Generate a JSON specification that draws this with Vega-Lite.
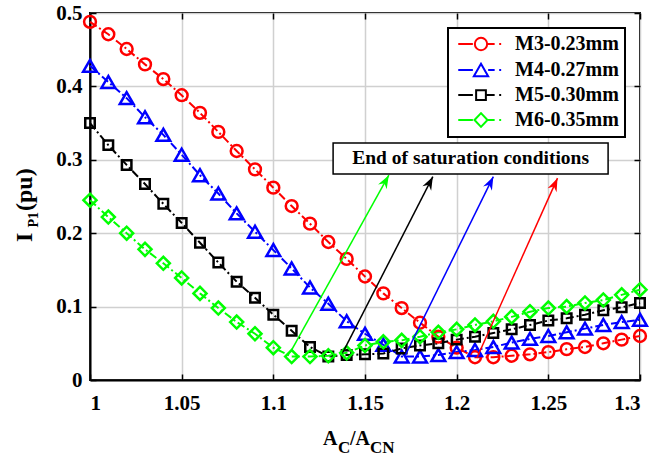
{
  "$schema": "https://vega.github.io/schema/vega-lite/v6.json",
  "width": 550,
  "height": 367,
  "autosize": {"type": "none"},
  "padding": {"left": 90, "top": 13, "right": 28, "bottom": 77},
  "background": "white",
  "config": {
    "view": {"stroke": "black", "strokeWidth": 2},
    "font": "Liberation Serif",
    "axis": {"domainColor": "black", "domainWidth": 2, "tickColor": "black", "tickWidth": 1.5, "tickSize": -6, "labelFont": "Liberation Serif", "labelFontWeight": "bold", "labelFontSize": 21, "labelColor": "black", "gridColor": "#d0d0d0", "gridWidth": 1.5, "gridOpacity": 1},
    "axisX": {"labelPadding": 18},
    "axisY": {"labelPadding": 14},
    "legend": {"padding": 6, "strokeColor": "black", "strokeWidth": 2, "fillColor": "white", "labelFont": "Liberation Serif", "labelFontWeight": "bold", "labelFontSize": 20, "labelColor": "black", "rowPadding": 4, "symbolStrokeWidth": 2, "symbolOffset": 17, "labelOffset": 24}
  },
  "datasets": {
    "curves": [
      {"series": "M3-0.23mm", "ratio": 1.00, "ipu": 0.488},
      {"series": "M3-0.23mm", "ratio": 1.01, "ipu": 0.471},
      {"series": "M3-0.23mm", "ratio": 1.02, "ipu": 0.451},
      {"series": "M3-0.23mm", "ratio": 1.03, "ipu": 0.430},
      {"series": "M3-0.23mm", "ratio": 1.04, "ipu": 0.410},
      {"series": "M3-0.23mm", "ratio": 1.05, "ipu": 0.388},
      {"series": "M3-0.23mm", "ratio": 1.06, "ipu": 0.364},
      {"series": "M3-0.23mm", "ratio": 1.07, "ipu": 0.338},
      {"series": "M3-0.23mm", "ratio": 1.08, "ipu": 0.312},
      {"series": "M3-0.23mm", "ratio": 1.09, "ipu": 0.287},
      {"series": "M3-0.23mm", "ratio": 1.10, "ipu": 0.262},
      {"series": "M3-0.23mm", "ratio": 1.11, "ipu": 0.237},
      {"series": "M3-0.23mm", "ratio": 1.12, "ipu": 0.213},
      {"series": "M3-0.23mm", "ratio": 1.13, "ipu": 0.188},
      {"series": "M3-0.23mm", "ratio": 1.14, "ipu": 0.165},
      {"series": "M3-0.23mm", "ratio": 1.15, "ipu": 0.141},
      {"series": "M3-0.23mm", "ratio": 1.16, "ipu": 0.118},
      {"series": "M3-0.23mm", "ratio": 1.17, "ipu": 0.098},
      {"series": "M3-0.23mm", "ratio": 1.18, "ipu": 0.078},
      {"series": "M3-0.23mm", "ratio": 1.19, "ipu": 0.059},
      {"series": "M3-0.23mm", "ratio": 1.20, "ipu": 0.044},
      {"series": "M3-0.23mm", "ratio": 1.21, "ipu": 0.031},
      {"series": "M3-0.23mm", "ratio": 1.22, "ipu": 0.031},
      {"series": "M3-0.23mm", "ratio": 1.23, "ipu": 0.033},
      {"series": "M3-0.23mm", "ratio": 1.24, "ipu": 0.035},
      {"series": "M3-0.23mm", "ratio": 1.25, "ipu": 0.038},
      {"series": "M3-0.23mm", "ratio": 1.26, "ipu": 0.042},
      {"series": "M3-0.23mm", "ratio": 1.27, "ipu": 0.045},
      {"series": "M3-0.23mm", "ratio": 1.28, "ipu": 0.050},
      {"series": "M3-0.23mm", "ratio": 1.29, "ipu": 0.055},
      {"series": "M3-0.23mm", "ratio": 1.30, "ipu": 0.060},
      {"series": "M4-0.27mm", "ratio": 1.00, "ipu": 0.428},
      {"series": "M4-0.27mm", "ratio": 1.01, "ipu": 0.406},
      {"series": "M4-0.27mm", "ratio": 1.02, "ipu": 0.384},
      {"series": "M4-0.27mm", "ratio": 1.03, "ipu": 0.358},
      {"series": "M4-0.27mm", "ratio": 1.04, "ipu": 0.334},
      {"series": "M4-0.27mm", "ratio": 1.05, "ipu": 0.307},
      {"series": "M4-0.27mm", "ratio": 1.06, "ipu": 0.279},
      {"series": "M4-0.27mm", "ratio": 1.07, "ipu": 0.254},
      {"series": "M4-0.27mm", "ratio": 1.08, "ipu": 0.227},
      {"series": "M4-0.27mm", "ratio": 1.09, "ipu": 0.202},
      {"series": "M4-0.27mm", "ratio": 1.10, "ipu": 0.177},
      {"series": "M4-0.27mm", "ratio": 1.11, "ipu": 0.152},
      {"series": "M4-0.27mm", "ratio": 1.12, "ipu": 0.126},
      {"series": "M4-0.27mm", "ratio": 1.13, "ipu": 0.104},
      {"series": "M4-0.27mm", "ratio": 1.14, "ipu": 0.080},
      {"series": "M4-0.27mm", "ratio": 1.15, "ipu": 0.063},
      {"series": "M4-0.27mm", "ratio": 1.16, "ipu": 0.048},
      {"series": "M4-0.27mm", "ratio": 1.17, "ipu": 0.032},
      {"series": "M4-0.27mm", "ratio": 1.18, "ipu": 0.032},
      {"series": "M4-0.27mm", "ratio": 1.19, "ipu": 0.034},
      {"series": "M4-0.27mm", "ratio": 1.20, "ipu": 0.038},
      {"series": "M4-0.27mm", "ratio": 1.21, "ipu": 0.041},
      {"series": "M4-0.27mm", "ratio": 1.22, "ipu": 0.045},
      {"series": "M4-0.27mm", "ratio": 1.23, "ipu": 0.051},
      {"series": "M4-0.27mm", "ratio": 1.24, "ipu": 0.056},
      {"series": "M4-0.27mm", "ratio": 1.25, "ipu": 0.060},
      {"series": "M4-0.27mm", "ratio": 1.26, "ipu": 0.065},
      {"series": "M4-0.27mm", "ratio": 1.27, "ipu": 0.070},
      {"series": "M4-0.27mm", "ratio": 1.28, "ipu": 0.075},
      {"series": "M4-0.27mm", "ratio": 1.29, "ipu": 0.079},
      {"series": "M4-0.27mm", "ratio": 1.30, "ipu": 0.082},
      {"series": "M5-0.30mm", "ratio": 1.00, "ipu": 0.350},
      {"series": "M5-0.30mm", "ratio": 1.01, "ipu": 0.320},
      {"series": "M5-0.30mm", "ratio": 1.02, "ipu": 0.293},
      {"series": "M5-0.30mm", "ratio": 1.03, "ipu": 0.267},
      {"series": "M5-0.30mm", "ratio": 1.04, "ipu": 0.240},
      {"series": "M5-0.30mm", "ratio": 1.05, "ipu": 0.214},
      {"series": "M5-0.30mm", "ratio": 1.06, "ipu": 0.187},
      {"series": "M5-0.30mm", "ratio": 1.07, "ipu": 0.160},
      {"series": "M5-0.30mm", "ratio": 1.08, "ipu": 0.134},
      {"series": "M5-0.30mm", "ratio": 1.09, "ipu": 0.112},
      {"series": "M5-0.30mm", "ratio": 1.10, "ipu": 0.089},
      {"series": "M5-0.30mm", "ratio": 1.11, "ipu": 0.067},
      {"series": "M5-0.30mm", "ratio": 1.12, "ipu": 0.045},
      {"series": "M5-0.30mm", "ratio": 1.13, "ipu": 0.032},
      {"series": "M5-0.30mm", "ratio": 1.14, "ipu": 0.034},
      {"series": "M5-0.30mm", "ratio": 1.15, "ipu": 0.035},
      {"series": "M5-0.30mm", "ratio": 1.16, "ipu": 0.036},
      {"series": "M5-0.30mm", "ratio": 1.17, "ipu": 0.043},
      {"series": "M5-0.30mm", "ratio": 1.18, "ipu": 0.047},
      {"series": "M5-0.30mm", "ratio": 1.19, "ipu": 0.050},
      {"series": "M5-0.30mm", "ratio": 1.20, "ipu": 0.055},
      {"series": "M5-0.30mm", "ratio": 1.21, "ipu": 0.059},
      {"series": "M5-0.30mm", "ratio": 1.22, "ipu": 0.064},
      {"series": "M5-0.30mm", "ratio": 1.23, "ipu": 0.069},
      {"series": "M5-0.30mm", "ratio": 1.24, "ipu": 0.075},
      {"series": "M5-0.30mm", "ratio": 1.25, "ipu": 0.081},
      {"series": "M5-0.30mm", "ratio": 1.26, "ipu": 0.084},
      {"series": "M5-0.30mm", "ratio": 1.27, "ipu": 0.089},
      {"series": "M5-0.30mm", "ratio": 1.28, "ipu": 0.095},
      {"series": "M5-0.30mm", "ratio": 1.29, "ipu": 0.099},
      {"series": "M5-0.30mm", "ratio": 1.30, "ipu": 0.105},
      {"series": "M6-0.35mm", "ratio": 1.00, "ipu": 0.245},
      {"series": "M6-0.35mm", "ratio": 1.01, "ipu": 0.222},
      {"series": "M6-0.35mm", "ratio": 1.02, "ipu": 0.200},
      {"series": "M6-0.35mm", "ratio": 1.03, "ipu": 0.178},
      {"series": "M6-0.35mm", "ratio": 1.04, "ipu": 0.159},
      {"series": "M6-0.35mm", "ratio": 1.05, "ipu": 0.139},
      {"series": "M6-0.35mm", "ratio": 1.06, "ipu": 0.118},
      {"series": "M6-0.35mm", "ratio": 1.07, "ipu": 0.098},
      {"series": "M6-0.35mm", "ratio": 1.08, "ipu": 0.079},
      {"series": "M6-0.35mm", "ratio": 1.09, "ipu": 0.063},
      {"series": "M6-0.35mm", "ratio": 1.10, "ipu": 0.044},
      {"series": "M6-0.35mm", "ratio": 1.11, "ipu": 0.032},
      {"series": "M6-0.35mm", "ratio": 1.12, "ipu": 0.032},
      {"series": "M6-0.35mm", "ratio": 1.13, "ipu": 0.033},
      {"series": "M6-0.35mm", "ratio": 1.14, "ipu": 0.037},
      {"series": "M6-0.35mm", "ratio": 1.15, "ipu": 0.047},
      {"series": "M6-0.35mm", "ratio": 1.16, "ipu": 0.052},
      {"series": "M6-0.35mm", "ratio": 1.17, "ipu": 0.054},
      {"series": "M6-0.35mm", "ratio": 1.18, "ipu": 0.059},
      {"series": "M6-0.35mm", "ratio": 1.19, "ipu": 0.065},
      {"series": "M6-0.35mm", "ratio": 1.20, "ipu": 0.069},
      {"series": "M6-0.35mm", "ratio": 1.21, "ipu": 0.075},
      {"series": "M6-0.35mm", "ratio": 1.22, "ipu": 0.080},
      {"series": "M6-0.35mm", "ratio": 1.23, "ipu": 0.086},
      {"series": "M6-0.35mm", "ratio": 1.24, "ipu": 0.093},
      {"series": "M6-0.35mm", "ratio": 1.25, "ipu": 0.098},
      {"series": "M6-0.35mm", "ratio": 1.26, "ipu": 0.100},
      {"series": "M6-0.35mm", "ratio": 1.27, "ipu": 0.105},
      {"series": "M6-0.35mm", "ratio": 1.28, "ipu": 0.109},
      {"series": "M6-0.35mm", "ratio": 1.29, "ipu": 0.116},
      {"series": "M6-0.35mm", "ratio": 1.30, "ipu": 0.123}
    ],
    "arrows": [
      {"series": "M6-0.35mm", "ratio": 1.110, "ipu": 0.041, "ratio2": 1.163, "ipu2": 0.279},
      {"series": "M5-0.30mm", "ratio": 1.138, "ipu": 0.038, "ratio2": 1.187, "ipu2": 0.277},
      {"series": "M4-0.27mm", "ratio": 1.172, "ipu": 0.034, "ratio2": 1.220, "ipu2": 0.277},
      {"series": "M3-0.23mm", "ratio": 1.211, "ipu": 0.030, "ratio2": 1.255, "ipu2": 0.275}
    ]
  },
  "resolve": {
    "axis": {"x": "independent", "y": "independent"},
    "scale": {"color": "independent", "shape": "independent", "size": "independent"}
  },
  "layer": [
    {
      "data": {"name": "curves"},
      "mark": {"type": "line", "strokeWidth": 2, "strokeDash": [8, 3, 2, 3]},
      "encoding": {
        "x": {"field": "ratio", "type": "quantitative", "scale": {"domain": [1, 1.3], "nice": false, "zero": false},
              "axis": {"orient": "bottom", "title": null, "values": [1, 1.05, 1.1, 1.15, 1.2, 1.25, 1.3], "format": "~g", "grid": true}},
        "y": {"field": "ipu", "type": "quantitative", "scale": {"domain": [0, 0.5], "nice": false},
              "axis": {"orient": "left", "title": null, "values": [0, 0.1, 0.2, 0.3, 0.4, 0.5], "format": "~g", "grid": true}},
        "color": {"field": "series", "type": "nominal", "legend": null,
                  "scale": {"domain": ["M3-0.23mm", "M4-0.27mm", "M5-0.30mm", "M6-0.35mm"], "range": ["#ff0000", "#0000ff", "#000000", "#00ff00"]}}
      }
    },
    {
      "data": {"name": "curves"},
      "mark": {"type": "point", "filled": false, "strokeWidth": 2.5, "opacity": 1},
      "encoding": {
        "x": {"field": "ratio", "type": "quantitative", "axis": null},
        "y": {"field": "ipu", "type": "quantitative", "axis": null},
        "color": {"field": "series", "type": "nominal", "legend": null,
                  "scale": {"domain": ["M3-0.23mm", "M4-0.27mm", "M5-0.30mm", "M6-0.35mm"], "range": ["#ff0000", "#0000ff", "#000000", "#00ff00"]}},
        "shape": {"field": "series", "type": "nominal", "legend": null,
                  "scale": {"domain": ["M3-0.23mm", "M4-0.27mm", "M5-0.30mm", "M6-0.35mm"], "range": ["circle", "triangle-up", "square", "diamond"]}},
        "size": {"field": "series", "type": "nominal", "legend": null,
                 "scale": {"type": "ordinal", "domain": ["M3-0.23mm", "M4-0.27mm", "M5-0.30mm", "M6-0.35mm"], "range": [140, 190, 90, 170]}}
      }
    },
    {
      "data": {"name": "curves"},
      "mark": {"type": "point", "filled": false, "strokeWidth": 2, "opacity": 0, "size": 169},
      "encoding": {
        "x": {"field": "ratio", "type": "quantitative", "axis": null},
        "y": {"field": "ipu", "type": "quantitative", "axis": null},
        "color": {"field": "series", "type": "nominal", "title": null,
                  "scale": {"domain": ["M3-0.23mm", "M4-0.27mm", "M5-0.30mm", "M6-0.35mm"], "range": ["#ff0000", "#0000ff", "#000000", "#00ff00"]},
                  "legend": {"orient": "none", "legendX": 358, "legendY": 15, "symbolOpacity": 1, "symbolSize": 169, "symbolStrokeWidth": 2}},
        "shape": {"field": "series", "type": "nominal", "title": null,
                  "scale": {"domain": ["M3-0.23mm", "M4-0.27mm", "M5-0.30mm", "M6-0.35mm"],
                            "range": [
                              "M-3.5,0 L-1.25,0 M1.0,0 L2.1,0 M2.8,0 L3.1,0 M0.95,0 A0.95,0.95 0 1,1 -0.95,0 A0.95,0.95 0 1,1 0.95,0",
                              "M-3.5,0 L-1.25,0 M1.1,0 L2.1,0 M2.8,0 L3.1,0 M0,-0.95 L-1.1,0.95 L1.1,0.95 Z",
                              "M-3.5,0 L-1.25,0 M0.8,0 L2.1,0 M2.8,0 L3.1,0 M-0.75,-0.75 L0.75,-0.75 L0.75,0.75 L-0.75,0.75 Z",
                              "M-3.5,0 L-1.25,0 M1.0,0 L2.1,0 M2.8,0 L3.1,0 M-1,0 L0,-1.05 L1,0 L0,1.05 Z"
                            ]},
                  "legend": {"orient": "none", "legendX": 358, "legendY": 15, "symbolOpacity": 1, "symbolSize": 169, "symbolStrokeWidth": 2}}
      }
    },
    {
      "data": {"name": "arrows"},
      "mark": {"type": "rule", "strokeWidth": 1.5},
      "encoding": {
        "x": {"field": "ratio", "type": "quantitative", "axis": null},
        "y": {"field": "ipu", "type": "quantitative", "axis": null},
        "x2": {"field": "ratio2"},
        "y2": {"field": "ipu2"},
        "color": {"field": "series", "type": "nominal", "legend": null,
                  "scale": {"domain": ["M3-0.23mm", "M4-0.27mm", "M5-0.30mm", "M6-0.35mm"], "range": ["#ff0000", "#0000ff", "#000000", "#00ff00"]}}
      }
    },
    {
      "data": {"name": "arrows"},
      "transform": [{"filter": "datum.series === 'M6-0.35mm'"}],
      "mark": {"type": "point", "shape": "M0,0 L0.7,1.9 L0,1.3 L-0.7,1.9 Z", "filled": true, "size": 196, "angle": 29, "color": "#00ff00", "opacity": 1},
      "encoding": {
        "x": {"field": "ratio2", "type": "quantitative", "axis": null},
        "y": {"field": "ipu2", "type": "quantitative", "axis": null}
      }
    },
    {
      "data": {"name": "arrows"},
      "transform": [{"filter": "datum.series === 'M5-0.30mm'"}],
      "mark": {"type": "point", "shape": "M0,0 L0.7,1.9 L0,1.3 L-0.7,1.9 Z", "filled": true, "size": 196, "angle": 27, "color": "#000000", "opacity": 1},
      "encoding": {
        "x": {"field": "ratio2", "type": "quantitative", "axis": null},
        "y": {"field": "ipu2", "type": "quantitative", "axis": null}
      }
    },
    {
      "data": {"name": "arrows"},
      "transform": [{"filter": "datum.series === 'M4-0.27mm'"}],
      "mark": {"type": "point", "shape": "M0,0 L0.7,1.9 L0,1.3 L-0.7,1.9 Z", "filled": true, "size": 196, "angle": 26, "color": "#0000ff", "opacity": 1},
      "encoding": {
        "x": {"field": "ratio2", "type": "quantitative", "axis": null},
        "y": {"field": "ipu2", "type": "quantitative", "axis": null}
      }
    },
    {
      "data": {"name": "arrows"},
      "transform": [{"filter": "datum.series === 'M3-0.23mm'"}],
      "mark": {"type": "point", "shape": "M0,0 L0.7,1.9 L0,1.3 L-0.7,1.9 Z", "filled": true, "size": 196, "angle": 24, "color": "#ff0000", "opacity": 1},
      "encoding": {
        "x": {"field": "ratio2", "type": "quantitative", "axis": null},
        "y": {"field": "ipu2", "type": "quantitative", "axis": null}
      }
    },
    {
      "data": {"values": [{}]},
      "mark": {"type": "rect", "fill": "white", "stroke": "black", "strokeWidth": 1.5},
      "encoding": {
        "x": {"datum": 1.1326, "type": "quantitative",
              "axis": {"orient": "top", "title": null, "labels": false, "grid": false, "domain": false, "values": [1, 1.05, 1.1, 1.15, 1.2, 1.25, 1.3]}},
        "x2": {"datum": 1.2826},
        "y": {"datum": 0.3229, "type": "quantitative",
              "axis": {"orient": "right", "title": null, "labels": false, "grid": false, "domain": false, "values": [0, 0.1, 0.2, 0.3, 0.4, 0.5]}},
        "y2": {"datum": 0.2807}
      }
    },
    {
      "data": {"values": [{}]},
      "mark": {"type": "text", "text": "End of saturation conditions", "font": "Liberation Serif", "fontWeight": "bold", "fontSize": 19.5, "align": "center", "baseline": "middle", "color": "black"},
      "encoding": {
        "x": {"datum": 1.2076, "type": "quantitative", "axis": null},
        "y": {"datum": 0.3018, "type": "quantitative", "axis": null}
      }
    },
    {
      "data": {"values": [{}]},
      "mark": {"type": "text", "text": "A", "font": "Liberation Serif", "fontWeight": "bold", "fontSize": 20, "align": "left", "baseline": "alphabetic", "color": "black", "dx": -42, "dy": 65},
      "encoding": {
        "x": {"datum": 1.15, "type": "quantitative", "axis": null},
        "y": {"datum": 0, "type": "quantitative", "axis": null}
      }
    },
    {
      "data": {"values": [{}]},
      "mark": {"type": "text", "text": "C", "font": "Liberation Serif", "fontWeight": "bold", "fontSize": 17, "align": "left", "baseline": "alphabetic", "color": "black", "dx": -27, "dy": 73},
      "encoding": {
        "x": {"datum": 1.15, "type": "quantitative", "axis": null},
        "y": {"datum": 0, "type": "quantitative", "axis": null}
      }
    },
    {
      "data": {"values": [{}]},
      "mark": {"type": "text", "text": "/A", "font": "Liberation Serif", "fontWeight": "bold", "fontSize": 20, "align": "left", "baseline": "alphabetic", "color": "black", "dx": -15, "dy": 65},
      "encoding": {
        "x": {"datum": 1.15, "type": "quantitative", "axis": null},
        "y": {"datum": 0, "type": "quantitative", "axis": null}
      }
    },
    {
      "data": {"values": [{}]},
      "mark": {"type": "text", "text": "CN", "font": "Liberation Serif", "fontWeight": "bold", "fontSize": 17, "align": "left", "baseline": "alphabetic", "color": "black", "dx": 5, "dy": 73},
      "encoding": {
        "x": {"datum": 1.15, "type": "quantitative", "axis": null},
        "y": {"datum": 0, "type": "quantitative", "axis": null}
      }
    },
    {
      "data": {"values": [{}]},
      "mark": {"type": "text", "text": "I", "font": "Liberation Serif", "fontWeight": "bold", "fontSize": 24, "align": "left", "baseline": "alphabetic", "color": "black", "angle": 270, "dx": -45.5, "dy": -58},
      "encoding": {
        "x": {"datum": 1, "type": "quantitative", "axis": null},
        "y": {"datum": 0.25, "type": "quantitative", "axis": null}
      }
    },
    {
      "data": {"values": [{}]},
      "mark": {"type": "text", "text": "P1", "font": "Liberation Serif", "fontWeight": "bold", "fontSize": 14, "align": "left", "baseline": "alphabetic", "color": "black", "angle": 270, "dx": -31, "dy": -52},
      "encoding": {
        "x": {"datum": 1, "type": "quantitative", "axis": null},
        "y": {"datum": 0.25, "type": "quantitative", "axis": null}
      }
    },
    {
      "data": {"values": [{}]},
      "mark": {"type": "text", "text": "(pu)", "font": "Liberation Serif", "fontWeight": "bold", "fontSize": 24, "align": "left", "baseline": "alphabetic", "color": "black", "angle": 270, "dx": -14.5, "dy": -58},
      "encoding": {
        "x": {"datum": 1, "type": "quantitative", "axis": null},
        "y": {"datum": 0.25, "type": "quantitative", "axis": null}
      }
    }
  ]
}
